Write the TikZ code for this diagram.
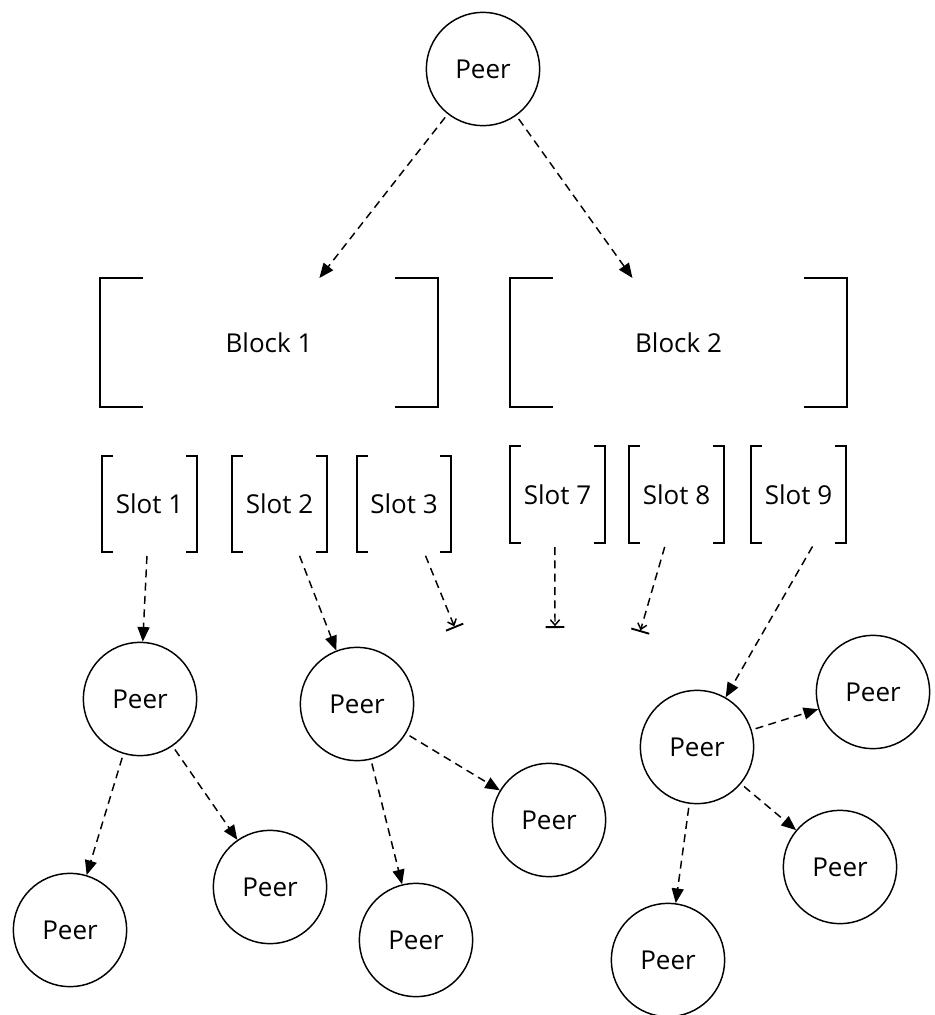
\documentclass[tikz,border=0pt]{standalone}
\usepackage{fontspec}
\setmainfont{Open Sans}
\usetikzlibrary{arrows.meta}

\begin{document}
\begin{tikzpicture}[x=0.75pt,y=0.75pt,yscale=-1,xscale=1,
  peer/.style={circle,draw,line width=1.1pt,minimum size=85pt,inner sep=0pt,font=\fontsize{19.5}{23}\selectfont},
  holder/.style={minimum width=#1,inner sep=0pt,outer sep=0pt,font=\fontsize{19.5}{23}\selectfont},
  link/.style={line width=1.1pt,dash pattern=on 6pt off 4pt,-{Triangle[length=11pt,width=9pt]},shorten <=3pt},
  dead/.style={line width=1.1pt,dash pattern=on 6pt off 4pt,-{Straight Barb[length=4pt,width=7pt]Bar[width=14pt,line width=1.4pt]},shorten <=3pt}]
\useasboundingbox (0,0) rectangle (935,1015);

% Peers
\node [peer] (top) at (483,69) {Peer};
\node [peer] (p1) at (140,699) {Peer};
\node [peer] (p2) at (357,704) {Peer};
\node [peer] (p9) at (697,747) {Peer};
\node [peer] (p9a) at (873,692) {Peer};
\node [peer] (p1a) at (70,930) {Peer};
\node [peer] (p1b) at (270,887) {Peer};
\node [peer] (p2a) at (416,940) {Peer};
\node [peer] (p2b) at (549,820) {Peer};
\node [peer] (p9b) at (840,867) {Peer};
\node [peer] (p9c) at (668,960) {Peer};

% Blocks
\node [holder=253.5pt,minimum height=96.75pt] (blk1) at (269,342.5) {Block 1};
\node [holder=252.75pt,minimum height=96.75pt] (blk2) at (678.5,342.5) {Block 2};

% Slots
\node [holder=71.25pt,minimum height=72pt] (s1) at (149.5,504) {Slot 1};
\node [holder=71.25pt,minimum height=72pt] (s2) at (279.5,504) {Slot 2};
\node [holder=70.5pt,minimum height=72pt] (s3) at (404,504) {Slot 3};
\node [holder=71.25pt,minimum height=72.75pt] (s7) at (557.5,494.5) {Slot 7};
\node [holder=71.25pt,minimum height=72.75pt] (s8) at (676.5,494.5) {Slot 8};
\node [holder=71.25pt,minimum height=72.75pt] (s9) at (798.5,494.5) {Slot 9};

% brackets
\foreach \n/\a in {blk1/32,blk2/32,s1/8,s2/8,s3/8,s7/8,s8/8,s9/8}
  \draw [line width=1.1pt] ([xshift=\a pt]\n.north west) -- (\n.north west) -- (\n.south west) -- ([xshift=\a pt]\n.south west)
        ([xshift=-\a pt]\n.north east) -- (\n.north east) -- (\n.south east) -- ([xshift=-\a pt]\n.south east);

% dead ends
\coordinate (f3) at (455,628);
\coordinate (f7) at (555,628);
\coordinate (f8) at (640,632);

% Connectors
\draw [link] (top) -- (blk1);
\draw [link] (top) -- (blk2);
\draw [link] (s1) -- (p1);
\draw [link] (s2) -- (p2);
\draw [link] ([xshift=12pt]s9.south) -- (p9);
\draw [dead] ([xshift=15pt]s3.south) -- (f3);
\draw [dead] ([xshift=-2pt]s7.south) -- (f7);
\draw [dead] ([xshift=-8pt]s8.south) -- (f8);
\draw [link] (p1) -- (p1a);
\draw [link] (p1) -- (p1b);
\draw [link] (p2) -- (p2a);
\draw [link] (p2) -- (p2b);
\draw [link] (p9) -- (p9a);
\draw [link] (p9) -- (p9b);
\draw [link] (p9) -- (p9c);

\end{tikzpicture}
\end{document}
